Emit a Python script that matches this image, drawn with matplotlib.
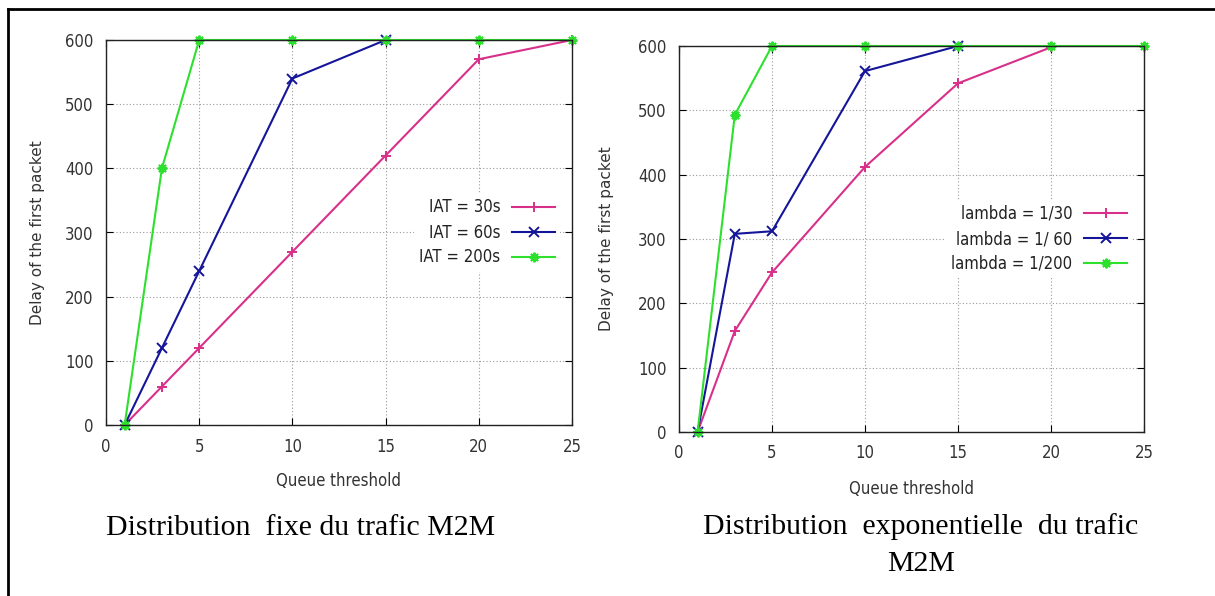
import matplotlib
matplotlib.use("Agg")
import matplotlib.pyplot as plt
from matplotlib.lines import Line2D
from matplotlib import font_manager

# ---------- data ----------
# fixed distribution (IAT)
iat_labels = ["IAT = 30s", "IAT = 60s", "IAT = 200s"]
fix_30_x = [1, 3, 5, 10, 15, 20, 25]
fix_30 = [0, 60, 120, 270, 420, 570, 600]
fix_60_x = [1, 3, 5, 10, 15]
fix_60 = [0, 120, 240, 540, 600]
fix_200_x = [1, 3, 5, 10, 15, 20, 25]
fix_200 = [0, 400, 600, 600, 600, 600, 600]

# exponential distribution (lambda)
lam_labels = ["lambda = 1/30", "lambda = 1/ 60", "lambda = 1/200"]
exp_30_x = [1, 3, 5, 10, 15, 20]
exp_30 = [0, 157, 248, 412, 542, 598]
exp_60_x = [1, 3, 5, 10, 15]
exp_60 = [0, 308, 312, 561, 600]
exp_200_x = [1, 3, 5, 10, 15, 20, 25]
exp_200 = [0, 493, 600, 600, 600, 600, 600]

xticks = [0, 5, 10, 15, 20, 25]
yticks = [0, 100, 200, 300, 400, 500, 600]

C_PINK = "#d8308a"
C_BLUE = "#15159a"
C_GREEN = "#2ee02e"
MARKERS = ["+", "x", (8, 2, 0)]
COLORS = [C_PINK, C_BLUE, C_GREEN]

# narrow sans for gnuplot-like labels
NARROW = font_manager.FontProperties(family="DejaVu Sans", stretch="condensed", size=12)

W, H = 1215, 596
fig = plt.figure(figsize=(W / 100, H / 100), dpi=100)


def px_axes(x0, x1, ytop, ybot):
    return fig.add_axes([x0 / W, (H - ybot) / H, (x1 - x0) / W, (ybot - ytop) / H])


def draw(ax, series, labels, lab_x, xlab_y):
    for (xs, ys), lab, c, m in zip(series, labels, COLORS, MARKERS):
        ax.plot(xs, ys, color=c, lw=1.5, marker=m, ms=7, mew=1.4,
                label=lab, clip_on=False)
    ax.set_xlim(0, 25)
    ax.set_ylim(0, 600)
    ax.set_xticks(xticks)
    ax.set_yticks(yticks)
    ax.grid(True, ls=(0, (1, 2)), lw=0.8, color="#999999")
    ax.tick_params(direction="in", length=5, width=0.8, top=True, right=True,
                   labelcolor="#333333", pad=9)
    for t in ax.get_xticklabels() + ax.get_yticklabels():
        t.set_fontproperties(NARROW)
    for s in ax.spines.values():
        s.set_color("#222222")
        s.set_linewidth(1.0)
    ax.set_ylabel("Delay of the first packet", fontsize=11, color="#333333",
                  family="DejaVu Sans")
    ax.yaxis.set_label_coords(lab_x, 0.5)
    ax.yaxis.label.set_va("center")
    ax.set_xlabel("Queue threshold", color="#333333", fontproperties=NARROW)
    ax.xaxis.set_label_coords(0.5, xlab_y)
    ax.xaxis.label.set_va("center")
    leg = ax.legend(loc="center right", bbox_to_anchor=(0.975, 0.5),
                    markerfirst=False, frameon=True, fancybox=False,
                    edgecolor="none", facecolor="white", framealpha=1,
                    handlelength=2.6, handletextpad=0.7, labelspacing=0.42,
                    borderpad=0.3, borderaxespad=0, prop=NARROW)
    for t in leg.get_texts():
        t.set_color("#222222")


ax1 = px_axes(106, 572, 40, 425)
draw(ax1, [(fix_30_x, fix_30), (fix_60_x, fix_60), (fix_200_x, fix_200)],
     iat_labels, -0.148, -0.145)

ax2 = px_axes(679, 1144, 46, 432)
draw(ax2, [(exp_30_x, exp_30), (exp_60_x, exp_60), (exp_200_x, exp_200)],
     lam_labels, -0.155, -0.148)

# captions
serif = ["Liberation Serif", "DejaVu Serif"]
fig.text(106 / W, 1 - 528 / H, "Distribution  fixe du trafic M2M",
         family=serif, fontsize=21.5, ha="left", va="center")
fig.text(921 / W, 1 - 527 / H, "Distribution  exponentielle  du trafic",
         family=serif, fontsize=21.5, ha="center", va="center")
fig.text(921 / W, 1 - 564 / H, "M2M",
         family=serif, fontsize=21.5, ha="center", va="center")

# outer frame (left and top edges visible)
fig.add_artist(Line2D([8 / W, 8 / W], [0, 1 - 9 / H], color="black", lw=2,
                      transform=fig.transFigure))
fig.add_artist(Line2D([8 / W, 1], [1 - 9 / H, 1 - 9 / H], color="black", lw=2,
                      transform=fig.transFigure))

fig.savefig("out.png", dpi=100)
